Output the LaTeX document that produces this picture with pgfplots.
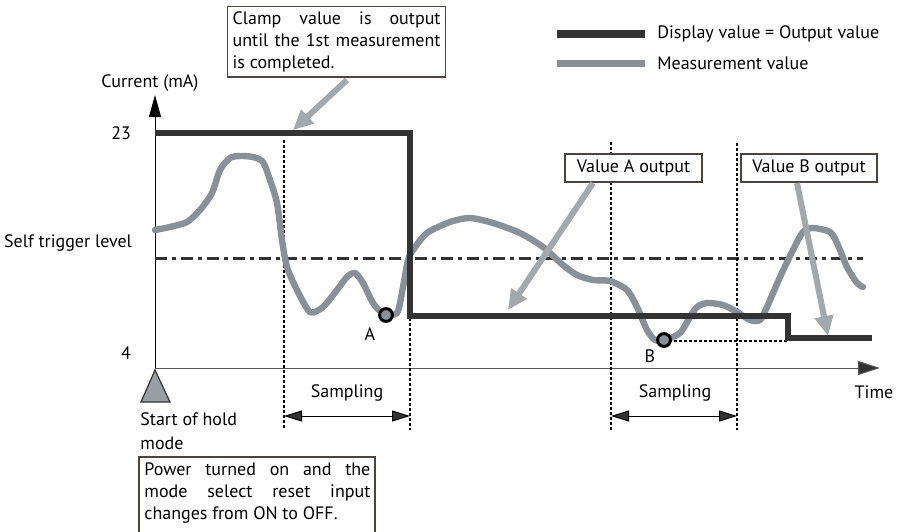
\documentclass[border=0pt]{standalone}
\usepackage{fontspec}
\setmainfont{PT Sans}
\usepackage{pgfplots}
\pgfplotsset{compat=1.18}
\usetikzlibrary{arrows.meta}

\definecolor{outc}{HTML}{333333}
\definecolor{meas}{HTML}{8A9097}
\definecolor{callgray}{HTML}{A3A8AD}
\definecolor{boxc}{HTML}{4D4440}
\definecolor{trig}{HTML}{9A9FA5}

\begin{document}
\begin{tikzpicture}[font=\fontsize{9}{11}\selectfont]
\begin{axis}[
    name=ax,
    width=450.5pt, height=265.5pt,
    scale only axis,
    xmin=0, xmax=901,
    ymin=0, ymax=531,
    y dir=reverse,
    hide axis,
    clip=false,
]

% axes
\draw[black, line width=0.5pt, -{Triangle[width=6pt,length=11pt]}] (155,368) -- (155,95);
\draw[gray!70!black, line width=0.5pt, -{Triangle[width=7pt,length=11pt,fill=outc]}] (155,368) -- (880,368);

% self trigger level
\addplot[outc, line width=1.5pt, dash pattern=on 6pt off 2.5pt on 2pt off 2.5pt]
  coordinates {(155,258) (863,258)};

% sampling boundaries
\addplot[black, line width=0.6pt, dash pattern=on 1.5pt off 1pt] coordinates {(284,140) (284,430)};
\addplot[black, line width=0.6pt, dash pattern=on 1.5pt off 1pt] coordinates {(410,318) (410,430)};
\addplot[black, line width=0.6pt, dash pattern=on 1.5pt off 1pt] coordinates {(611,142) (611,430)};
\addplot[black, line width=0.6pt, dash pattern=on 1.5pt off 1pt] coordinates {(737,143) (737,430)};
\addplot[black, line width=0.6pt, dash pattern=on 1.5pt off 1pt] coordinates {(664,341) (788,341)};

% measurement value
\addplot[meas, line width=3.2pt, smooth, tension=0.45, line cap=round, line join=round] coordinates {
  (155,230) (170,227) (187,222) (200,210) (212,193) (220,170) (230,158)
  (240,156) (253,157) (263,162) (270,180) (277,203) (282,240) (287,267)
  (297,290) (310,312) (323,307) (337,290) (347,277) (355,273) (363,283)
  (373,303) (383,313) (397,313) (403,287) (408,260) (413,250) (427,233)
  (450,222) (470,218) (493,223) (520,233) (543,247) (563,265) (577,275)
  (593,280) (610,281) (627,290) (637,307) (647,330) (655,340) (665,340)
  (680,333) (690,317) (697,307) (707,303) (723,305) (737,312) (750,320)
  (760,320) (767,307) (780,277) (793,250) (803,232) (813,228) (830,232)
  (837,243) (847,267) (857,283) (863,287)
};

% display value = output value
\addplot[outc, line width=3.2pt, line join=miter] coordinates {
  (155,133) (410,133) (410,316) (788,316) (788,338) (872,338)
};

% held points
\addplot[only marks, mark=*, mark size=3.2pt,
  mark options={fill=meas, draw=black, line width=1.5pt}]
  coordinates {(386,315) (664,340)};
\node at (370,334) {A};
\node at (650,356) {B};

% sampling intervals
\draw[line width=0.5pt, {Triangle[width=5.5pt,length=9pt,fill=outc]}-{Triangle[width=5.5pt,length=9pt,fill=outc]}] (284,416) -- (410,416);
\draw[line width=0.5pt, {Triangle[width=5.5pt,length=9pt,fill=outc]}-{Triangle[width=5.5pt,length=9pt,fill=outc]}] (611,416) -- (737,416);
\node at (347,393) {Sampling};
\node at (675,393) {Sampling};

% labels
\node[anchor=east] at (138,133) {23};
\node[anchor=east] at (138,353) {4};
\node at (150,83) {Current (mA)};
\node at (68,243) {Self trigger level};
\node at (874,392) {Time};

% start of hold mode
\draw[fill=trig, draw=outc, line width=0.6pt] (155,370) -- (170,402) -- (141,402) -- cycle;
\node[anchor=west, inner sep=0pt] at (140,419) {Start of hold};
\node[anchor=west, inner sep=0pt] at (140,443) {mode};
\draw[boxc, line width=0.6pt] (139,545) -- (139,457) -- (375,457) -- (375,545);
\node[anchor=north west, text width=113pt, align=justify,
  inner sep=2.5pt] at (139,457)
  {Power turned on and the\linebreak mode select reset input\linebreak changes from ON to OFF.};

% clamp callout
\node[anchor=north west, draw=boxc, line width=0.6pt, text width=104pt, align=justify,
  inner sep=2.5pt, fill=white] at (227,6)
  {Clamp value is output\linebreak until the 1st measurement\linebreak is completed.};
\draw[callgray, line width=3pt, -{Triangle[width=9pt,length=10pt]}] (347,80) -- (293,130);

% value callouts
\node[draw=boxc, line width=0.6pt, fill=white, minimum width=68.5pt, minimum height=14pt,
  inner sep=1pt] at (633.5,168) {Value A output};
\node[draw=boxc, line width=0.6pt, fill=white, minimum width=68pt, minimum height=14pt,
  inner sep=1pt] at (809,168) {Value B output};
\draw[callgray, line width=3pt, -{Triangle[width=9pt,length=10pt]}] (593,183) -- (508,310);
\draw[callgray, line width=3pt, -{Triangle[width=9pt,length=10pt]}] (797,183) -- (828,336);

% legend
\draw[outc, line width=4pt] (557,34) -- (645,34);
\draw[meas, line width=3.5pt] (557,63) -- (645,63);
\node[anchor=west, inner sep=0pt] at (657,34) {Display value = Output value};
\node[anchor=west, inner sep=0pt] at (657,63) {Measurement value};

\end{axis}
\pgfresetboundingbox
\useasboundingbox (ax.south west) rectangle (ax.north east);
\end{tikzpicture}
\end{document}
